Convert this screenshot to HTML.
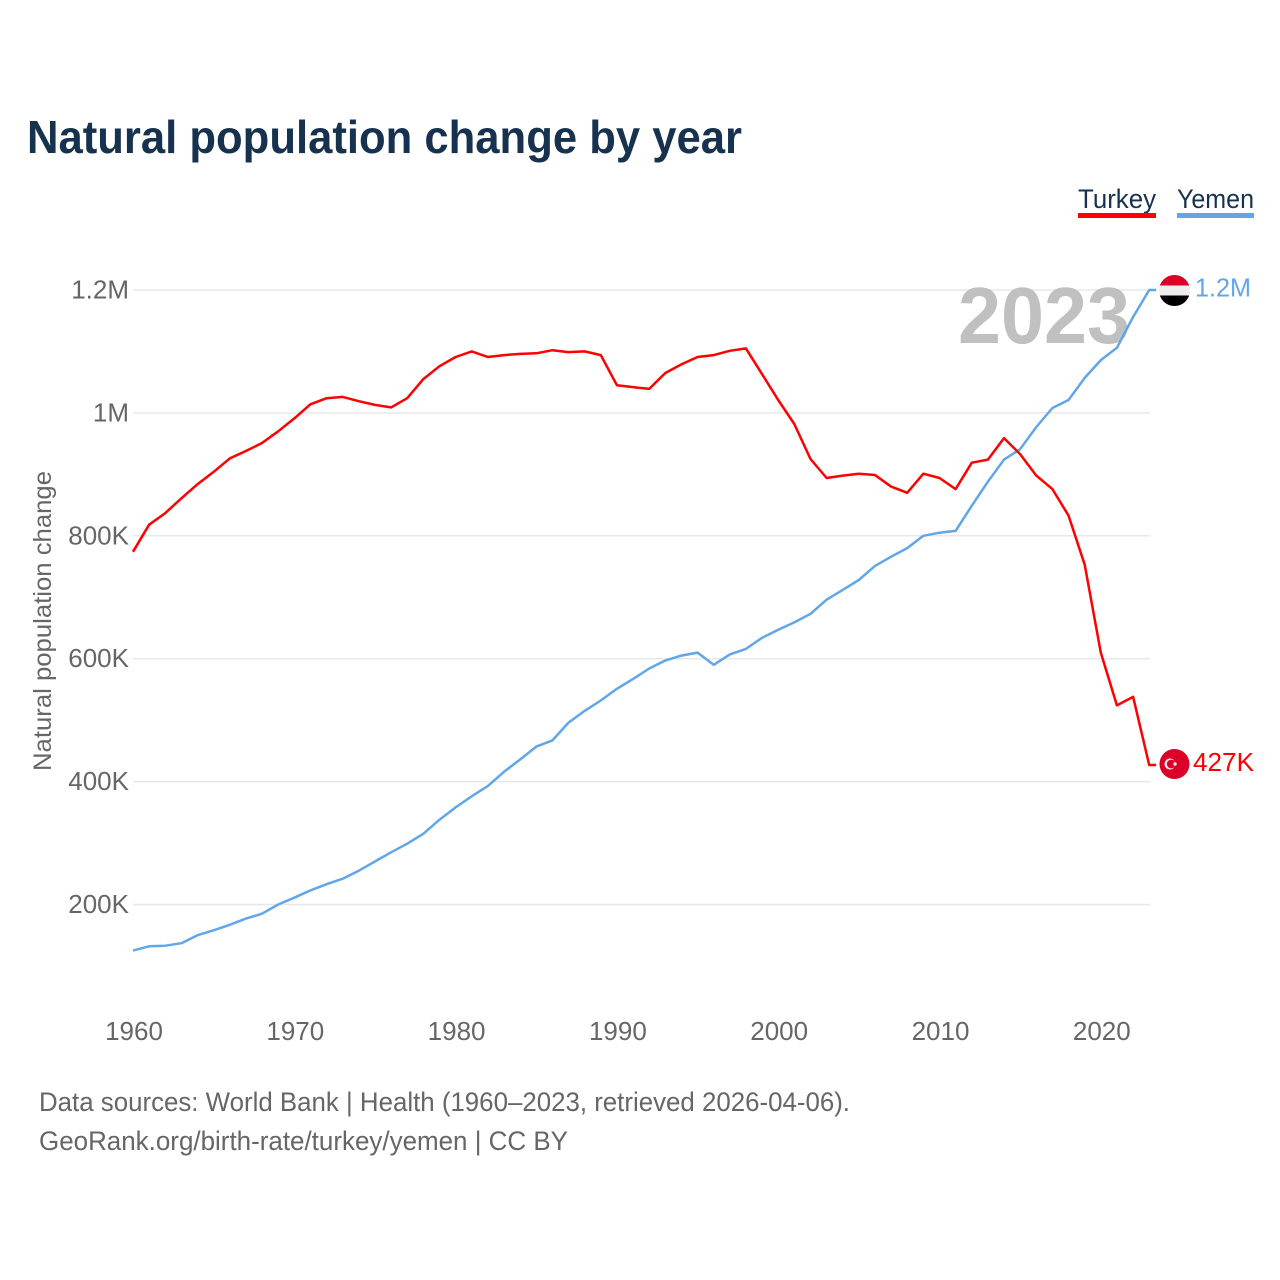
<!DOCTYPE html>
<html lang="en">
<head>
<meta charset="utf-8">
<title>Natural population change by year</title>
<style>
html,body{margin:0;padding:0;background:#fff;}
svg{display:block;}
text{font-family:"Liberation Sans",sans-serif;}
</style>
</head>
<body>
<svg id="chart" xmlns="http://www.w3.org/2000/svg" width="1280" height="1280" viewBox="0 0 1280 1280">
  <rect width="1280" height="1280" fill="#fff"/>
  <text x="27" y="153" font-size="46" font-weight="700" fill="#17324f" textLength="715" lengthAdjust="spacingAndGlyphs">Natural population change by year</text>

  <g>
    <g>
      <text x="1078" y="208" font-size="27" fill="#17324f" textLength="78" lengthAdjust="spacingAndGlyphs">Turkey</text>
      <rect x="1078" y="213" width="78" height="5" fill="#ff0000"/>
    </g>
    <g>
      <text x="1177" y="208" font-size="27" fill="#17324f" textLength="77" lengthAdjust="spacingAndGlyphs">Yemen</text>
      <rect x="1177" y="213" width="77" height="5" fill="#62a6ea"/>
    </g>
  </g>

  <g id="grid"></g>
  <g id="yticks"></g>
  <g id="xticks"></g>

  <text transform="translate(51,621) rotate(-90)" text-anchor="middle" font-size="25" fill="#666" textLength="300" lengthAdjust="spacingAndGlyphs">Natural population change</text>

  <text id="year-watermark" x="1130" y="343" text-anchor="end" font-size="80" font-weight="700" fill="#c0c0c0" textLength="172" lengthAdjust="spacingAndGlyphs">2023</text>

  <g id="series"></g>

  <defs>
    <clipPath id="yemen-flag-clip"><circle id="yemen-clip-circle" r="15.5"/></clipPath>
  </defs>
  <g id="flags"></g>
  <g id="end-labels"></g>

  <g>
    <text x="39" y="1111" font-size="27" fill="#666" textLength="811" lengthAdjust="spacingAndGlyphs">Data sources: World Bank | Health (1960–2023, retrieved 2026-04-06).</text>
    <text x="39" y="1150" font-size="27" fill="#666" textLength="529" lengthAdjust="spacingAndGlyphs">GeoRank.org/birth-rate/turkey/yemen | CC BY</text>
  </g>
</svg>
<script>
const startYear = 1960;
const turkeyValues = [774,818,837,861,884,904,926,938,951,970,991,1014,1024,1026,1019,1013,1009,1024,1055,1076,1091,1100,1091,1094,1096,1097,1102,1099,1100,1094,1045,1042,1039,1065,1079,1091,1094,1101,1105,1063,1021,982,925,894,898,901,899,880,870,901,894,876,919,924,959,933,898,876,833,753,610,524,538,427];
const yemenValues = [125,132,133,137,150,158,167,177,185,200,211,223,233,242,255,270,285,299,315,338,358,376,393,416,436,457,467,496,515,532,551,567,584,597,605,610,590,607,616,634,647,659,673,696,712,728,751,766,780,800,805,808,849,888,924,941,977,1008,1021,1057,1086,1106,1156,1200];
const yTickValues = [200,400,600,800,1000,1200];
const yTickLabels = ["200K","400K","600K","800K","1M","1.2M"];
const xTickYears = [1960,1970,1980,1990,2000,2010,2020];
const endLabels = ["427K","1.2M"];

const SVG_NS = "http://www.w3.org/2000/svg";
function xScale(year){ return 133 + (year - 1960) * 16.13; }
function yScale(k){ return 904.5 - (k - 200) * 0.6145; }
function make(tag, attrs, parent){
  const el = document.createElementNS(SVG_NS, tag);
  for (const k in attrs) el.setAttribute(k, attrs[k]);
  parent.appendChild(el);
  return el;
}
const grid = document.getElementById("grid");
const yticks = document.getElementById("yticks");
const xticks = document.getElementById("xticks");
const series = document.getElementById("series");
const flags = document.getElementById("flags");
const labels = document.getElementById("end-labels");

yTickValues.forEach(function(v, i){
  const line = make("line", {x1: 133, x2: 1150, y1: yScale(v), y2: yScale(v), stroke: "#e8e8e8", "stroke-width": 1.5}, grid);
  
  
  const t = make("text", {x: 129, y: yScale(v) + 8.5, "text-anchor": "end", "font-size": 26, fill: "#666"}, yticks);
  
  
  t.textContent = yTickLabels[i];
});

xTickYears.forEach(function(y){
  const t = make("text", {x: xScale(y) + 1, y: 1040, "text-anchor": "middle", "font-size": 26, fill: "#666"}, xticks);
  
  
  t.textContent = y;
});

function linePath(values){
  let d = "";
  values.forEach(function(v, i){
    d += (i ? "L" : "M") + xScale(startYear + i).toFixed(1) + " " + yScale(v).toFixed(1);
  });
  const lastV = values[values.length - 1];
  d += "L" + (xScale(startYear + values.length - 1) + 7).toFixed(1) + " " + yScale(lastV).toFixed(1);
  return d;
}

const yemenLine = make("path", {d: linePath(yemenValues), fill: "none", stroke: "#62a6ea", "stroke-width": 2.5, "stroke-linejoin": "round"}, series);


const turkeyLine = make("path", {d: linePath(turkeyValues), fill: "none", stroke: "#ff0000", "stroke-width": 2.5, "stroke-linejoin": "round"}, series);



const flagX = 1174.5;
const yemenY = yScale(yemenValues[yemenValues.length - 1]) + 0.5;
const turkeyY = yScale(turkeyValues[turkeyValues.length - 1]) - 1;

const clipC = document.getElementById("yemen-clip-circle");
clipC.setAttribute("cx", flagX);
clipC.setAttribute("cy", yemenY);
const yemenFlag = make("g", {"clip-path": "url(#yemen-flag-clip)"}, flags);


make("rect", {x: flagX - 16, y: yemenY - 16, width: 32, height: 11, fill: "#dc0028"}, yemenFlag);
make("rect", {x: flagX - 16, y: yemenY - 5, width: 32, height: 10, fill: "#eeeeee"}, yemenFlag);
make("rect", {x: flagX - 16, y: yemenY + 5, width: 32, height: 11, fill: "#000000"}, yemenFlag);

const turkeyFlag = make("g", {}, flags);


make("circle", {cx: flagX, cy: turkeyY, r: 15, fill: "#dc0028"}, turkeyFlag);
make("circle", {cx: flagX - 4.5, cy: turkeyY, r: 5.5, fill: "#f4e6e8"}, turkeyFlag);
make("circle", {cx: flagX - 3.2, cy: turkeyY, r: 4.4, fill: "#dc0028"}, turkeyFlag);
make("circle", {cx: flagX + 0.5, cy: turkeyY, r: 1.7, fill: "#f4e6e8"}, turkeyFlag);

const turkeyLabel = make("text", {x: 1193, y: turkeyY + 7, "font-size": 26, fill: "#ff0000", textLength: 61, lengthAdjust: "spacingAndGlyphs"}, labels);


turkeyLabel.textContent = endLabels[0];
const yemenLabel = make("text", {x: 1195, y: yemenY + 6, "font-size": 26, fill: "#62a6ea", textLength: 56, lengthAdjust: "spacingAndGlyphs"}, labels);


yemenLabel.textContent = endLabels[1];
</script>
</body>
</html>
